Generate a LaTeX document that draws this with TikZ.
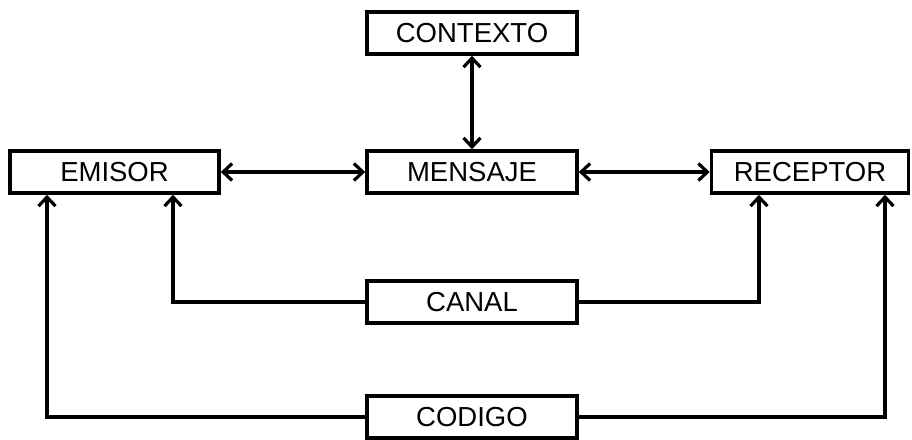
\documentclass[tikz,border=0pt]{standalone}
\usepackage{fontspec}
\setmainfont{Liberation Sans}
\usetikzlibrary{arrows.meta}
\begin{document}
\begin{tikzpicture}[x=1pt,y=-1pt,
  box/.style={draw,line width=3.6pt,minimum height=42pt,inner sep=0pt,fill=white,
    font=\fontsize{27.5}{30}\selectfont},
  conn/.style={line width=3.2pt},
  tip/.tip={Straight Barb[length=9pt,width=17pt,line width=3.2pt]},
  arr/.style={conn,-tip},
  darr/.style={conn,tip-tip},
]
\useasboundingbox (0,0) rectangle (912,439);
\node[box,minimum width=210pt] (contexto) at (472,33) {CONTEXTO};
\node[box,minimum width=210pt] (mensaje) at (472,172) {MENSAJE};
\node[box,minimum width=209pt] (emisor) at (114.5,172) {EMISOR};
\node[box,minimum width=197pt] (receptor) at (810,172) {RECEPTOR};
\node[box,minimum width=210pt] (canal) at (472,302) {CANAL};
\node[box,minimum width=210pt] (codigo) at (472,417) {CODIGO};
\coordinate (e1) at (47,0);
\coordinate (e2) at (173,0);
\coordinate (r1) at (759,0);
\coordinate (r2) at (885,0);
\draw[darr] (contexto) -- (mensaje);
\draw[darr] (emisor) -- (mensaje);
\draw[darr] (mensaje) -- (receptor);
\draw[arr] (canal.west) -| (e2 |- emisor.south);
\draw[arr] (canal.east) -| (r1 |- receptor.south);
\draw[arr] (codigo.west) -| (e1 |- emisor.south);
\draw[arr] (codigo.east) -| (r2 |- receptor.south);
\end{tikzpicture}
\end{document}
